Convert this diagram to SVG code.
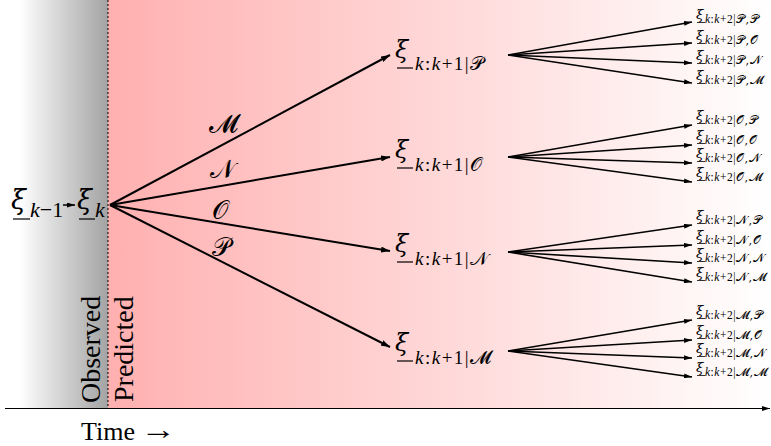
<svg xmlns="http://www.w3.org/2000/svg" width="771" height="446" viewBox="0 0 771 446">
<defs>
<linearGradient id="gGray" gradientUnits="userSpaceOnUse" x1="0" y1="0" x2="108" y2="0">
<stop offset="0.18" stop-color="#ffffff"/>
<stop offset="1" stop-color="#a3a3a3"/>
</linearGradient>
<linearGradient id="gPink" gradientUnits="userSpaceOnUse" x1="108" y1="0" x2="771" y2="0">
<stop offset="0" stop-color="#ffb0b0"/>
<stop offset="1" stop-color="#ffffff"/>
</linearGradient>
<marker id="ah" viewBox="0 0 9 6" refX="9" refY="3" markerWidth="9" markerHeight="6" markerUnits="userSpaceOnUse" orient="auto">
<path d="M0,0 L9,3 L0,6 z" fill="#000"/>
</marker>
<marker id="ahs" viewBox="0 0 8 5" refX="8" refY="2.5" markerWidth="8" markerHeight="5" markerUnits="userSpaceOnUse" orient="auto">
<path d="M0,0 L8,2.5 L0,5 z" fill="#000"/>
</marker>
</defs>
<style>
text{font-family:"Liberation Serif","DejaVu Serif",serif;fill:#000}
.xiL{font-size:27px;font-style:italic;font-family:"DejaVu Serif",serif}
.xiM{font-size:24px;font-style:italic;font-family:"DejaVu Serif",serif}
.xiR{font-size:13.5px;font-style:italic;font-family:"DejaVu Serif",serif}
.subL{font-size:22px}
.subM{font-size:19px;letter-spacing:1.5px}
.subR{font-size:11.5px;letter-spacing:0.5px}
.it{font-style:italic}
.cal{font-family:"DejaVu Serif","DejaVu Sans",serif;font-style:normal}
.lab{font-size:26px;font-family:"DejaVu Serif","DejaVu Sans",serif}
.ul{stroke:#000;stroke-width:1.2}
.ulR{stroke:#000;stroke-width:0.8}
.fan{stroke:#000;stroke-width:2;fill:none;marker-end:url(#ah)}
.fan2{stroke:#000;stroke-width:1.6;fill:none;marker-end:url(#ahs)}
.big{font-size:28px}
</style>
<rect x="0" y="0" width="108" height="408" fill="url(#gGray)"/>
<rect x="108" y="0" width="663" height="408" fill="url(#gPink)"/>
<line x1="108" y1="0" x2="108" y2="408" stroke="#000" stroke-width="1" stroke-dasharray="2,2"/>
<line x1="5" y1="408.5" x2="770" y2="408.5" stroke="#000" stroke-width="1" marker-end="url(#ahs)"/>
<text x="81" y="440" style="font-size:26px">Time</text>
<text x="140" y="439" style="font-size:28px" textLength="36" lengthAdjust="spacingAndGlyphs">→</text>
<text class="big" transform="translate(100,403) rotate(-90)">Observed</text>
<text class="big" transform="translate(133,402) rotate(-90)">Predicted</text>

<g id="connectors">
<line x1="63" y1="205" x2="75" y2="205" stroke="#000" stroke-width="1.5" marker-end="url(#ahs)"/>
<line class="fan" x1="110" y1="205" x2="390" y2="55"/>
<line class="fan" x1="110" y1="205" x2="390" y2="157"/>
<line class="fan" x1="110" y1="205" x2="390" y2="251"/>
<line class="fan" x1="110" y1="205" x2="390" y2="347"/>
<g id="fanP">
<line class="fan2" x1="508" y1="55" x2="692" y2="22"/>
<line class="fan2" x1="508" y1="55" x2="692" y2="43"/>
<line class="fan2" x1="508" y1="55" x2="692" y2="63"/>
<line class="fan2" x1="508" y1="55" x2="692" y2="83"/>
</g>
<g id="fanO">
<line class="fan2" x1="508" y1="157" x2="692" y2="125"/>
<line class="fan2" x1="508" y1="157" x2="692" y2="145"/>
<line class="fan2" x1="508" y1="157" x2="692" y2="163"/>
<line class="fan2" x1="508" y1="157" x2="692" y2="182"/>
</g>
<g id="fanN">
<line class="fan2" x1="508" y1="252" x2="692" y2="225"/>
<line class="fan2" x1="508" y1="252" x2="692" y2="245"/>
<line class="fan2" x1="508" y1="252" x2="692" y2="263"/>
<line class="fan2" x1="508" y1="252" x2="692" y2="282"/>
</g>
<g id="fanM">
<line class="fan2" x1="508" y1="351" x2="692" y2="320"/>
<line class="fan2" x1="508" y1="351" x2="692" y2="340"/>
<line class="fan2" x1="508" y1="351" x2="692" y2="358"/>
<line class="fan2" x1="508" y1="351" x2="692" y2="377"/>
</g>
<text class="lab" x="209" y="132">𝓜</text>
<text class="lab" x="210" y="178">𝒩</text>
<text class="lab" x="212" y="219">𝒪</text>
<text class="lab" x="212" y="256">𝒫</text>
</g>

<g id="n_km1">
<text class="xiL" x="11" y="209">ξ</text>
<line class="ul" x1="13" y1="219" x2="30" y2="219"/>
<text class="subL" x="30" y="217"><tspan class="it">k</tspan>−1</text>
</g>
<g id="n_k">
<text class="xiL" x="77" y="209">ξ</text>
<line class="ul" x1="79" y1="219" x2="95" y2="219"/>
<text class="subL it" x="95" y="217">k</text>
</g>

<g id="n1P"><text class="xiM" x="395" y="58">ξ</text><line class="ul" x1="397" y1="68" x2="413" y2="68"/><text class="subM" x="415" y="70"><tspan class="it">k</tspan>:<tspan class="it">k</tspan>+1|<tspan class="cal">𝒫</tspan></text></g>
<g id="n1O"><text class="xiM" x="395" y="158">ξ</text><line class="ul" x1="397" y1="168" x2="413" y2="168"/><text class="subM" x="415" y="171"><tspan class="it">k</tspan>:<tspan class="it">k</tspan>+1|<tspan class="cal">𝒪</tspan></text></g>
<g id="n1N"><text class="xiM" x="395" y="252">ξ</text><line class="ul" x1="397" y1="262" x2="413" y2="262"/><text class="subM" x="415" y="265"><tspan class="it">k</tspan>:<tspan class="it">k</tspan>+1|<tspan class="cal">𝒩</tspan></text></g>
<g id="n1M"><text class="xiM" x="395" y="351">ξ</text><line class="ul" x1="397" y1="361" x2="413" y2="361"/><text class="subM" x="415" y="364"><tspan class="it">k</tspan>:<tspan class="it">k</tspan>+1|<tspan class="cal">𝓜</tspan></text></g>

<g id="n2PP"><text class="xiR" x="696" y="19">ξ</text><line class="ulR" x1="697" y1="22.5" x2="705" y2="22.5"/><text class="subR" x="705" y="23"><tspan class="it">k</tspan>:<tspan class="it">k</tspan>+2|<tspan class="cal">𝒫,𝒫</tspan></text></g>
<g id="n2PO"><text class="xiR" x="696" y="40">ξ</text><line class="ulR" x1="697" y1="43.5" x2="705" y2="43.5"/><text class="subR" x="705" y="44"><tspan class="it">k</tspan>:<tspan class="it">k</tspan>+2|<tspan class="cal">𝒫,𝒪</tspan></text></g>
<g id="n2PN"><text class="xiR" x="696" y="60">ξ</text><line class="ulR" x1="697" y1="63.5" x2="705" y2="63.5"/><text class="subR" x="705" y="64"><tspan class="it">k</tspan>:<tspan class="it">k</tspan>+2|<tspan class="cal">𝒫,𝒩</tspan></text></g>
<g id="n2PM"><text class="xiR" x="696" y="80">ξ</text><line class="ulR" x1="697" y1="83.5" x2="705" y2="83.5"/><text class="subR" x="705" y="84"><tspan class="it">k</tspan>:<tspan class="it">k</tspan>+2|<tspan class="cal">𝒫,𝓜</tspan></text></g>

<g id="n2OP"><text class="xiR" x="696" y="120">ξ</text><line class="ulR" x1="697" y1="123.5" x2="705" y2="123.5"/><text class="subR" x="705" y="124"><tspan class="it">k</tspan>:<tspan class="it">k</tspan>+2|<tspan class="cal">𝒪,𝒫</tspan></text></g>
<g id="n2OO"><text class="xiR" x="696" y="140">ξ</text><line class="ulR" x1="697" y1="143.5" x2="705" y2="143.5"/><text class="subR" x="705" y="144"><tspan class="it">k</tspan>:<tspan class="it">k</tspan>+2|<tspan class="cal">𝒪,𝒪</tspan></text></g>
<g id="n2ON"><text class="xiR" x="696" y="158">ξ</text><line class="ulR" x1="697" y1="161.5" x2="705" y2="161.5"/><text class="subR" x="705" y="162"><tspan class="it">k</tspan>:<tspan class="it">k</tspan>+2|<tspan class="cal">𝒪,𝒩</tspan></text></g>
<g id="n2OM"><text class="xiR" x="696" y="177">ξ</text><line class="ulR" x1="697" y1="180.5" x2="705" y2="180.5"/><text class="subR" x="705" y="181"><tspan class="it">k</tspan>:<tspan class="it">k</tspan>+2|<tspan class="cal">𝒪,𝓜</tspan></text></g>

<g id="n2NP"><text class="xiR" x="696" y="220">ξ</text><line class="ulR" x1="697" y1="223.5" x2="705" y2="223.5"/><text class="subR" x="705" y="224"><tspan class="it">k</tspan>:<tspan class="it">k</tspan>+2|<tspan class="cal">𝒩,𝒫</tspan></text></g>
<g id="n2NO"><text class="xiR" x="696" y="240">ξ</text><line class="ulR" x1="697" y1="243.5" x2="705" y2="243.5"/><text class="subR" x="705" y="244"><tspan class="it">k</tspan>:<tspan class="it">k</tspan>+2|<tspan class="cal">𝒩,𝒪</tspan></text></g>
<g id="n2NN"><text class="xiR" x="696" y="258">ξ</text><line class="ulR" x1="697" y1="261.5" x2="705" y2="261.5"/><text class="subR" x="705" y="262"><tspan class="it">k</tspan>:<tspan class="it">k</tspan>+2|<tspan class="cal">𝒩,𝒩</tspan></text></g>
<g id="n2NM"><text class="xiR" x="696" y="277">ξ</text><line class="ulR" x1="697" y1="280.5" x2="705" y2="280.5"/><text class="subR" x="705" y="281"><tspan class="it">k</tspan>:<tspan class="it">k</tspan>+2|<tspan class="cal">𝒩,𝓜</tspan></text></g>

<g id="n2MP"><text class="xiR" x="696" y="315">ξ</text><line class="ulR" x1="697" y1="318.5" x2="705" y2="318.5"/><text class="subR" x="705" y="319"><tspan class="it">k</tspan>:<tspan class="it">k</tspan>+2|<tspan class="cal">𝓜,𝒫</tspan></text></g>
<g id="n2MO"><text class="xiR" x="696" y="335">ξ</text><line class="ulR" x1="697" y1="338.5" x2="705" y2="338.5"/><text class="subR" x="705" y="339"><tspan class="it">k</tspan>:<tspan class="it">k</tspan>+2|<tspan class="cal">𝓜,𝒪</tspan></text></g>
<g id="n2MN"><text class="xiR" x="696" y="353">ξ</text><line class="ulR" x1="697" y1="356.5" x2="705" y2="356.5"/><text class="subR" x="705" y="357"><tspan class="it">k</tspan>:<tspan class="it">k</tspan>+2|<tspan class="cal">𝓜,𝒩</tspan></text></g>
<g id="n2MM"><text class="xiR" x="696" y="372">ξ</text><line class="ulR" x1="697" y1="375.5" x2="705" y2="375.5"/><text class="subR" x="705" y="376"><tspan class="it">k</tspan>:<tspan class="it">k</tspan>+2|<tspan class="cal">𝓜,𝓜</tspan></text></g>
</svg>
